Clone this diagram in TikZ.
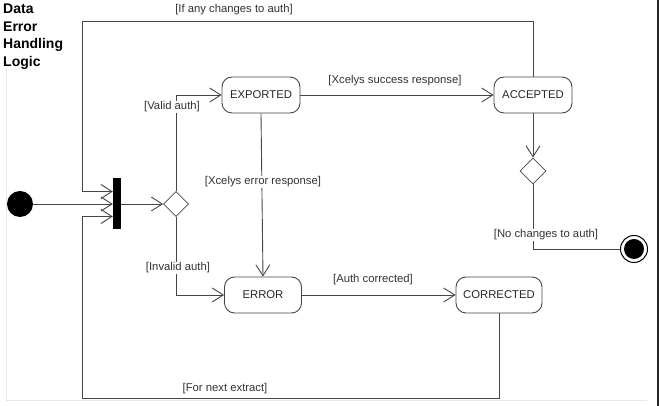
\documentclass[tikz,border=0pt]{standalone}
\usepackage{fontspec}
\setmainfont{Liberation Sans}
\usetikzlibrary{arrows.meta,shapes.geometric,calc}

\definecolor{linegray}{RGB}{70,70,70}
\definecolor{framebeige}{RGB}{236,232,214}

\begin{document}
\begin{tikzpicture}[x=1pt,y=1pt,
	state/.style={draw=linegray,line width=0.9pt,rounded corners=10pt,minimum height=36pt,inner sep=0pt,font=\fontsize{11.3}{13}\selectfont,text=black!85},
	guard/.style={fill=white,inner sep=1pt,font=\fontsize{11.3}{13}\selectfont,text=black!80},
	flow/.style={draw=linegray,line width=0.9pt},
	arr/.style={flow,-{Straight Barb[length=11pt,width=14pt]}},
	choice/.style={diamond,draw=linegray,line width=0.8pt,minimum size=25pt,inner sep=0pt}]

	\useasboundingbox (0,0) rectangle (659,406);

	% frame of the screenshot
	\draw[framebeige,line width=1.2pt] (6.5,344) -- (6.5,5.5) -- (647,5.5);
	\draw[black!85,line width=1.5pt] (658,0) -- (658,406);

	\node[anchor=north west,inner sep=0pt,align=left,font=\fontsize{14}{17.5}\selectfont\bfseries] (title) at (3,402) {Data\\Error\\Handling\\Logic};

	% states
	\node[circle,fill=black,minimum size=26pt,inner sep=0pt] (start) at (20,202) {};
	\node[fill=black,minimum width=8pt,minimum height=51pt,inner sep=0pt] (fork) at (117,202) {};
	\node[choice] (valid) at (176,202) {};
	\node[state,minimum width=78pt] (exported) at (261,311) {EXPORTED};
	\node[state,minimum width=78pt] (accepted) at (533,311) {ACCEPTED};
	\node[choice,minimum size=26pt] (changes) at (533,235) {};
	\node[circle,draw=black,line width=1pt,minimum size=27pt,inner sep=0pt,
		path picture={\fill[black] (path picture bounding box.center) circle (10pt);}] (end) at (634,157) {};
	\node[state,minimum width=77pt] (error) at (263,111) {ERROR};
	\node[state,minimum width=86pt] (corrected) at (499,111) {CORRECTED};

	\coordinate (topleft) at (82,385);
	\coordinate (botleft) at (82,8);

	% transitions
	\draw[arr] (start.east) -- (start.east -| fork.west);
	\draw[arr] (accepted.north) |- (topleft) |- ($(fork.west)+(0,12.5)$);
	\draw[arr] (corrected.south) |- (botleft) |- ($(fork.west)+(0,-12.5)$);
	\draw[arr] (fork.east) -- (valid.west);
	\draw[arr] (valid.north) |- (exported.west);
	\draw[arr] (valid.south) |- (error.west);
	\draw[arr] (exported.east) -- (accepted.west);
	\draw[arr] (exported.south) -- (error.north);
	\draw[arr] (error.east) -- (corrected.west);
	\draw[arr] (accepted.south) -- (changes.north);
	\draw[flow] (changes.south) |- (end.west);

	% guards
	\node[guard] (ifchanges) at (234,396) {[If any changes to auth]};
	\node[guard] (validauth) at (172,299) {[Valid auth]};
	\node[guard] (success) at (395,325) {[Xcelys success response]};
	\node[guard] (failure) at (263,224) {[Xcelys error response]};
	\node[guard] (invalidauth) at (178,138) {[Invalid auth]};
	\node[guard] (authcorr) at (373,126) {[Auth corrected]};
	\node[guard] (nochanges) at (546,171) {[No changes to auth]};
	\node[guard] (nextextract) at (225,17) {[For next extract]};
\end{tikzpicture}
\end{document}
